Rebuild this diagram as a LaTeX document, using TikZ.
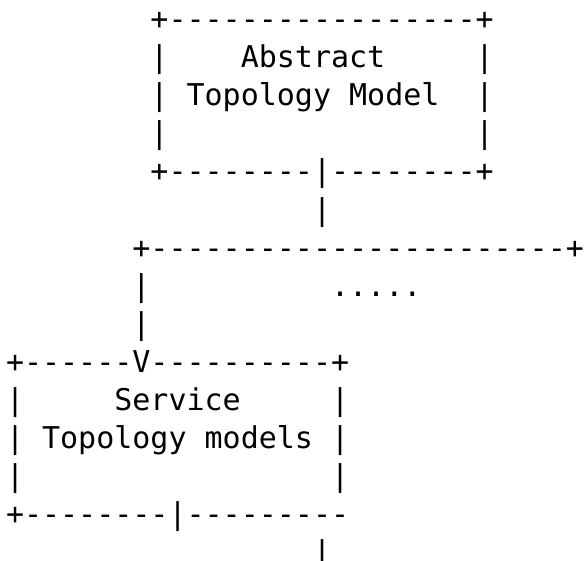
\documentclass[tikz,border=0pt]{standalone}
\usepackage{fontspec}
\setmonofont{DejaVu Sans Mono}
\tikzset{
  asc/.style={anchor=base west, inner sep=0pt, outer sep=0pt,
    font=\ttfamily\fontsize{30}{38}\selectfont, text=black}
}
% column c, line n -> position
\newcommand\cx[1]{6+18.06*#1}
\newcommand\ly[1]{30+38*(#1-1)}
\begin{document}
\begin{tikzpicture}[x=1pt,y=-1pt]
\useasboundingbox (0,0) rectangle (588,561);
% Abstract Topology Model box
\node[asc] (l1)  at ({\cx{8}},{\ly{1}}) {+-----------------+};
\node[asc] (l2a) at ({\cx{8}},{\ly{2}}) {|};
\node[asc] (abs) at ({\cx{13}},{\ly{2}}) {Abstract};
\node[asc] (l2b) at ({\cx{26}},{\ly{2}}) {|};
\node[asc] (l3a) at ({\cx{8}},{\ly{3}}) {|};
\node[asc] (top) at ({\cx{10}},{\ly{3}}) {Topology Model};
\node[asc] (l3b) at ({\cx{26}},{\ly{3}}) {|};
\node[asc] (l4a) at ({\cx{8}},{\ly{4}}) {|};
\node[asc] (l4b) at ({\cx{26}},{\ly{4}}) {|};
\node[asc] (l5)  at ({\cx{8}},{\ly{5}}) {+--------|--------+};
% connector
\node[asc] (l6)  at ({\cx{17}},{\ly{6}}) {|};
\node[asc] (l7)  at ({\cx{7}},{\ly{7}}) {+-----------------------+};
\node[asc] (l8a) at ({\cx{7}},{\ly{8}}) {|};
\node[asc] (dots) at ({\cx{18}},{\ly{8}}) {.....};
\node[asc] (l9)  at ({\cx{7}},{\ly{9}}) {|};
% Service Topology models box
\node[asc] (l10) at ({\cx{0}},{\ly{10}}) {+------V----------+};
\node[asc] (l11a) at ({\cx{0}},{\ly{11}}) {|};
\node[asc] (svc) at ({\cx{6}},{\ly{11}}) {Service};
\node[asc] (l11b) at ({\cx{18}},{\ly{11}}) {|};
\node[asc] (l12a) at ({\cx{0}},{\ly{12}}) {|};
\node[asc] (stm) at ({\cx{2}},{\ly{12}}) {Topology models};
\node[asc] (l12b) at ({\cx{18}},{\ly{12}}) {|};
\node[asc] (l13a) at ({\cx{0}},{\ly{13}}) {|};
\node[asc] (l13b) at ({\cx{18}},{\ly{13}}) {|};
\node[asc] (l14) at ({\cx{0}},{\ly{14}}) {+--------|---------};
\node[asc] (l15) at ({\cx{17}},{\ly{15}}) {|};
\end{tikzpicture}
\end{document}
